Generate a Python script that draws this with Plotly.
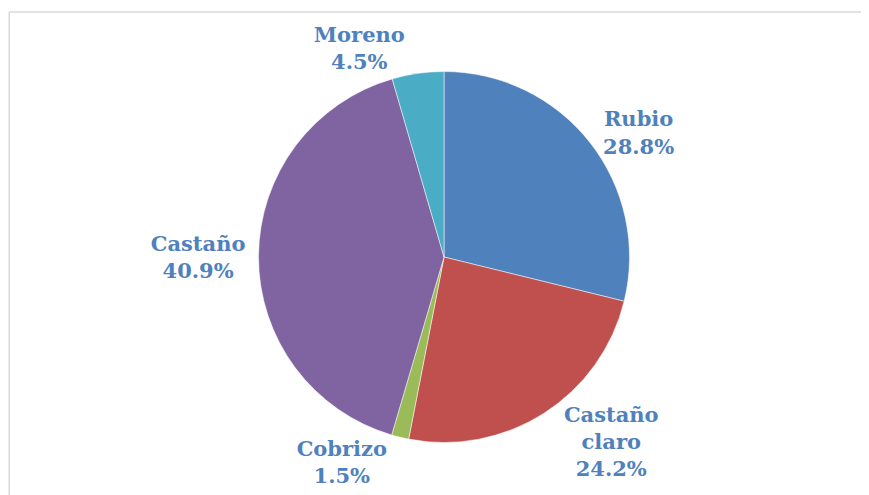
import plotly.graph_objects as go

labels = ["Rubio", "Castaño claro", "Cobrizo", "Castaño", "Moreno"]
label_text = ["Rubio", "Castaño<br>claro", "Cobrizo", "Castaño", "Moreno"]
values = [28.8, 24.2, 1.5, 40.9, 4.5]
colors = ["#4F81BD", "#C0504D", "#9BBB59", "#8064A2", "#4BACC6"]

fig = go.Figure()
fig.add_trace(go.Pie(
    labels=labels,
    values=values,
    text=label_text,
    texttemplate="%{text}<br>%{value:.1f}%",
    textposition="outside",
    sort=False,
    direction="clockwise",
    rotation=0,
    marker=dict(colors=colors, line=dict(color="white", width=0.5)),
    outsidetextfont=dict(family="DejaVu Serif", size=21, color="#4F81BD", weight="bold"),
    domain=dict(x=[0.2883, 0.7152], y=[0.1222, 0.8717]),
    showlegend=False,
    hoverinfo="label+percent",
))

# page body adds an 8px offset, so the figure is placed 8px down and right
border = dict(color="#D9D9D9", width=1.5)
fig.update_layout(
    width=869,
    height=495,
    margin=dict(l=0, r=0, t=0, b=0),
    paper_bgcolor="white",
    plot_bgcolor="white",
    shapes=[
        dict(type="line", xref="paper", yref="paper",
             x0=1.2 / 869, x1=1.0, y0=1 - 4 / 495, y1=1 - 4 / 495, line=border),
        dict(type="line", xref="paper", yref="paper",
             x0=1.2 / 869, x1=1.2 / 869, y0=0, y1=1 - 4 / 495, line=border),
    ],
)

fig.write_html("out.html")
